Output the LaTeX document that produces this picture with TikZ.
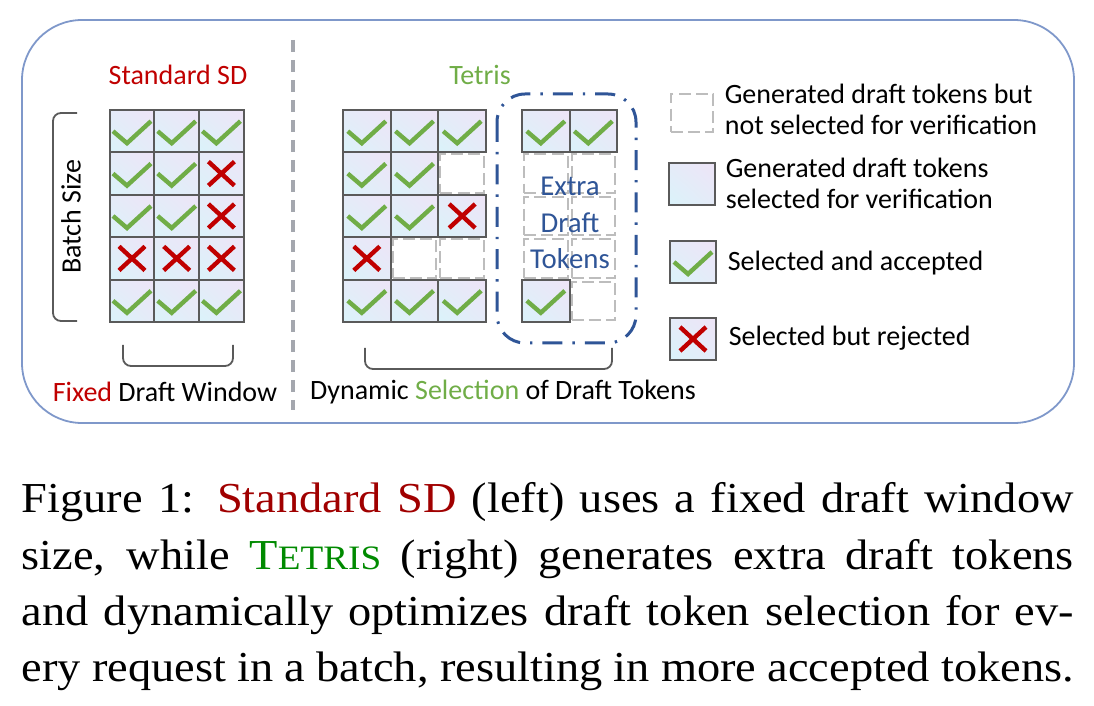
\documentclass[tikz,border=0pt]{standalone}
\usepackage{fontspec}
\setmainfont{Liberation Serif}
\newfontfamily\diagfont{Carlito}
\usetikzlibrary{shadings}

\definecolor{tokedge}{HTML}{5A5A5A}
\definecolor{genedge}{HTML}{BDBDBD}
\definecolor{tokcyan}{HTML}{DAF3FA}
\definecolor{toklav}{HTML}{EEE4F7}
\definecolor{tokmid}{HTML}{E5EBF8}
\definecolor{okgreen}{HTML}{70AD47}
\definecolor{nored}{HTML}{C00000}
\definecolor{framecol}{HTML}{7F98CA}
\definecolor{sepgray}{HTML}{A4A7AE}
\definecolor{extrablue}{HTML}{2F5597}
\definecolor{capred}{HTML}{A00000}
\definecolor{capgreen}{HTML}{008A00}

\def\cellw{11.2pt}
\def\cellh{10.6pt}

\tikzset{
  tok/.style={draw=tokedge, line width=0.5pt, inner sep=0pt,
    minimum width=\cellw, minimum height=\cellh,
    upper left=tokmid, upper right=toklav, lower left=tokcyan, lower right=tokmid},
  acc/.style={tok, path picture={
    \draw[okgreen, line width=1.1pt]
      ([shift={(-4.75pt,0pt)}]path picture bounding box.center)
      -- ++(3.5pt,-3pt) -- ++(6pt,5.5pt);}},
  rej/.style={tok, path picture={
    \draw[nored, line width=1.1pt]
      ([shift={(-3.25pt,-3pt)}]path picture bounding box.center) -- ++(6.5pt,6pt)
      ([shift={(-3.25pt,3pt)}]path picture bounding box.center) -- ++(6.5pt,-6pt);}},
  gen/.style={draw=genedge, line width=0.5pt, dash pattern=on 3pt off 1.3pt,
    inner sep=0pt, minimum width=\cellw-1pt, minimum height=\cellh-1pt},
  cell/.code={\edef\celltype{#1}\expandafter\pgfkeysalso\expandafter{\celltype}},
  brk/.style={draw=tokedge, line width=0.45pt, rounded corners=2pt},
  lab/.style={font=\diagfont\fontsize{7}{7.7}\selectfont, inner sep=0pt},
  legtxt/.style={lab, anchor=west, align=left},
}

\begin{document}
\begin{tikzpicture}[x=0.25pt,y=-0.25pt]
  \useasboundingbox (0,0) rectangle (1094,706);

  % outer frame and separator
  \draw[framecol, line width=0.45pt, rounded corners=15pt] (22,20) rectangle (1074,423);
  \draw[sepgray, line width=1pt, dash pattern=on 3pt off 2pt] (293,40) -- (293,410);

  % standard SD grid
  \foreach \row [count=\r] in {{acc,acc,acc},{acc,acc,rej},{acc,acc,rej},{rej,rej,rej},{acc,acc,acc}}
    \foreach \t [count=\c] in \row
      \node[cell=\t] (sd-\r-\c) at ({132+44.7*(\c-1)},{131.2+42.4*(\r-1)}) {};

  % tetris grid
  \def\cellw{11.9pt}
  \foreach \row [count=\r] in {{acc,acc,acc},{acc,acc,gen},{acc,acc,rej},{rej,gen,gen},{acc,acc,acc}}
    \foreach \t [count=\c] in \row
      \node[cell=\t] (tt-\r-\c) at ({366.8+47.7*(\c-1)},{131.2+42.4*(\r-1)}) {};
  \foreach \row [count=\r] in {{acc,acc},{gen,gen},{gen,gen},{gen,gen},{acc,gen}}
    \foreach \t [count=\c] in \row
      \node[cell=\t] (ex-\r-\c) at ({545.8+47.5*(\c-1)},{131.2+42.4*(\r-1)}) {};

  \draw[extrablue, line width=0.75pt, rounded corners=7pt,
    dash pattern=on 5pt off 2.5pt on 0.6pt off 2.5pt] (497,94) rectangle (636,343);
  \node[lab, text=extrablue, align=center, font=\diagfont\fontsize{7.2}{9.1}\selectfont]
    (ex-lab) at (570,223) {Extra\\Draft\\Tokens};

  % brackets
  \coordinate (bs-top) at (77,113);
  \coordinate (bs-bot) at (77,321);
  \draw[brk] (bs-top) -- (53,113) -- (53,321) -- (bs-bot);
  \draw[brk] (123,345) -- (123,366) -- (233,366) -- (233,345);
  \draw[brk] (365,348) -- (365,369) -- (612,369) -- (612,348);

  % labels
  \node[lab, text=nored] (sd-title) at (178,75) {Standard SD};
  \node[lab, text=okgreen] (tt-title) at (480,75) {Tetris};
  \node[lab, rotate=90] (bs-lab) at (71,217) {Batch Size};
  \node[lab] (sd-lab) at (165,392) {\textcolor{nored}{Fixed} Draft Window};
  \node[lab] (tt-lab) at (503,392) {Dynamic \textcolor{okgreen}{Selection} of Draft Tokens};

  % legend
  \def\cellw{11.7pt}
  \def\cellh{10.4pt}
  \node[gen] (lg-gen) at (692,113) {};
  \node[tok] (lg-tok) at (692,184) {};
  \node[acc] (lg-acc) at (693,262) {};
  \node[rej] (lg-rej) at (693,339) {};
  \node[legtxt] (lt-gen) at (724,109) {Generated draft tokens but\\not selected for verification};
  \node[legtxt] (lt-tok) at (725,183) {Generated draft tokens\\selected for verification};
  \node[legtxt] (lt-acc) at (727,263) {Selected and accepted};
  \node[legtxt] (lt-rej) at (728,338) {Selected but rejected};

  % caption
  \node[anchor=base west, inner sep=0pt] (cap) at (21,513)
    {\scalebox{1}[0.92]{\parbox[t]{263pt}{\fontsize{11.6}{15.3}\selectfont
     Figure 1: \textcolor{capred}{Standard SD} (left) uses a fixed draft window\linebreak
     size, while \textcolor{capgreen}{T{\fontsize{9.3}{0}\selectfont ETRIS}} (right) generates extra draft tokens\linebreak
     and dynamically optimizes draft token selection for ev-\linebreak
     ery request in a batch, resulting in more accepted tokens.}}};
\end{tikzpicture}
\end{document}
